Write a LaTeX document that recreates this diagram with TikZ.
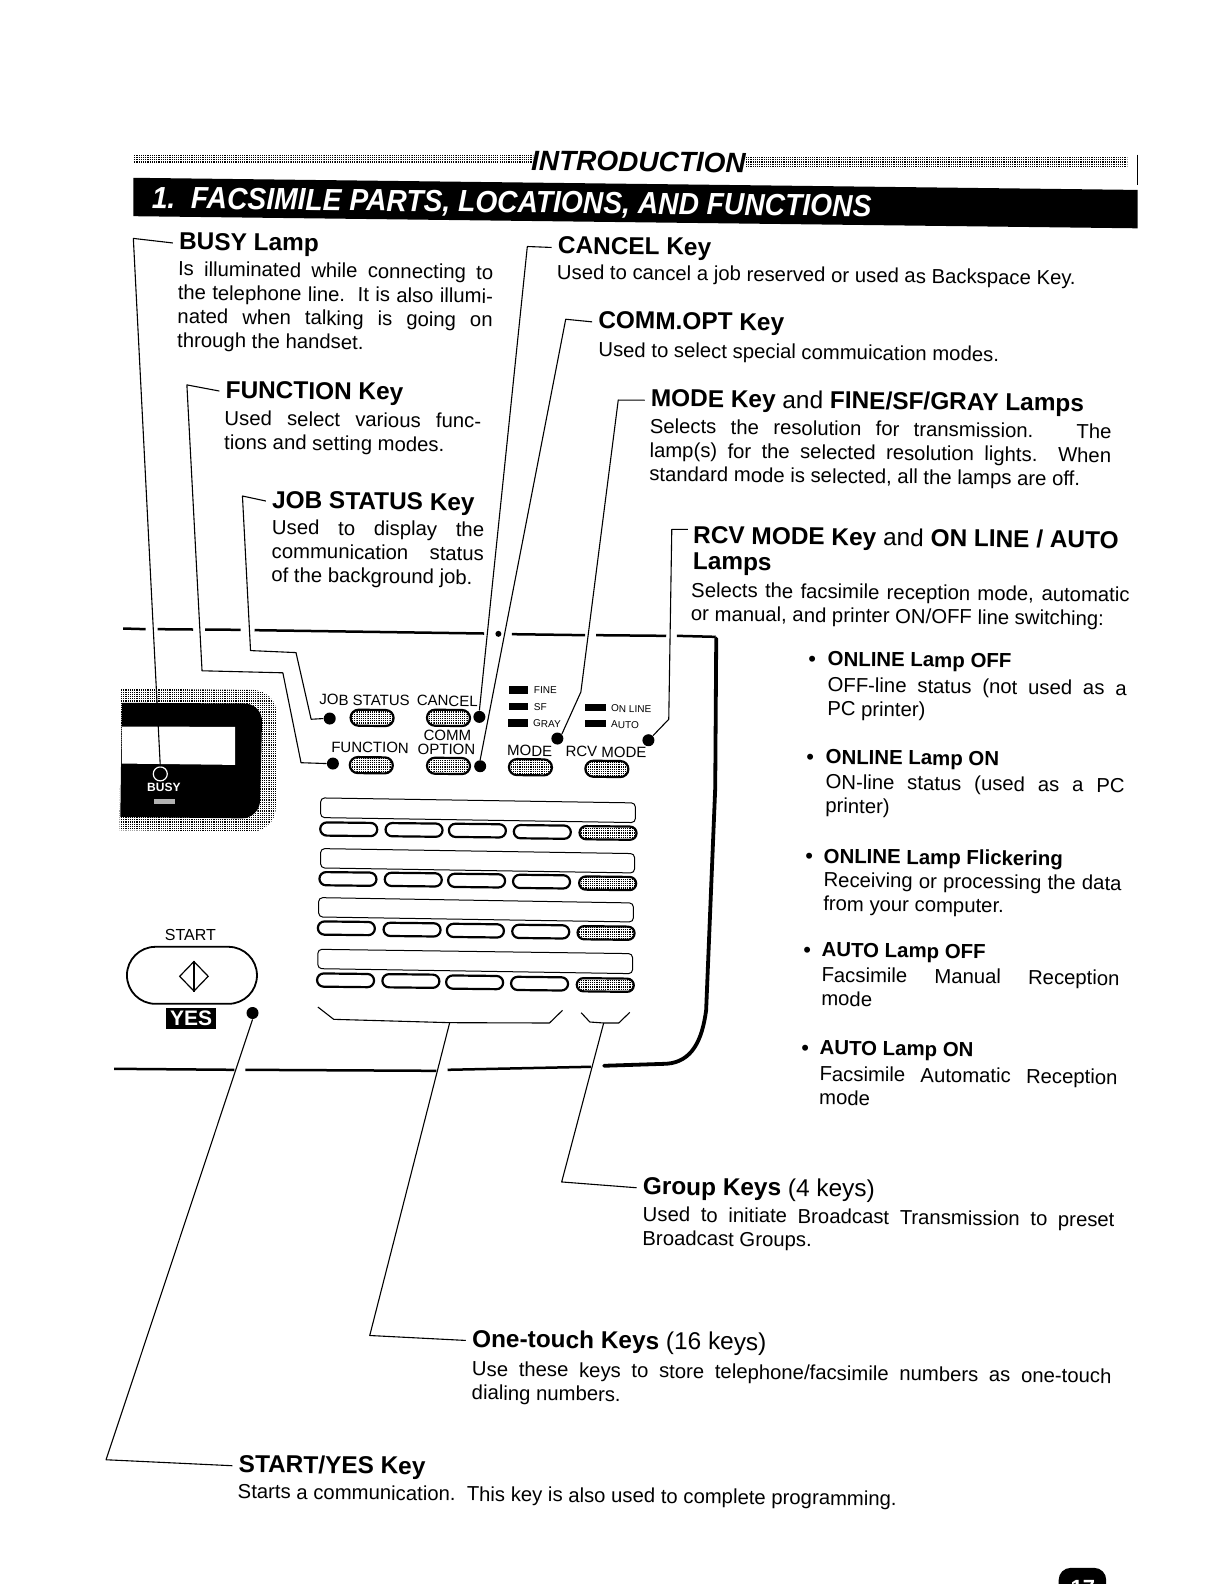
\documentclass[tikz,border=0pt]{standalone}
\usepackage{fontspec}
\setmainfont{Liberation Sans}
\usetikzlibrary{patterns,shapes.misc,shapes.geometric}
\pgfdeclarepatternformonly{finedots}{\pgfqpoint{-0.1pt}{-0.1pt}}{\pgfqpoint{1.2pt}{1.2pt}}{\pgfqpoint{1.1pt}{1.1pt}}{\pgfpathrectangle{\pgfqpoint{0pt}{0pt}}{\pgfqpoint{0.6pt}{0.6pt}}\pgfusepath{fill}}
\tikzset{
 lead/.style={line width=0.55pt,line join=round},
 fromhd/.style={lead,shorten <=3pt},
 tohd/.style={lead,shorten >=3pt},
 hd/.style={anchor=west,rotate=-0.65,yshift=-0.6pt,inner sep=0pt,font=\fontsize{12.2}{13}\selectfont},
 shd/.style={hd,font=\fontsize{10.2}{12}\selectfont},
 bodytxt/.style={anchor=north west,rotate=-0.65,inner sep=0pt,align=justify,text width={#1*0.505pt},font=\fontsize{10.15}{11.9}\selectfont},
 sbodytxt/.style={anchor=west,rotate=-0.65,inner sep=0pt,font=\fontsize{10.15}{11.9}\selectfont},
 bul/.style={anchor=center,inner sep=0pt,yshift=-1pt,font=\fontsize{11}{12}\selectfont},
 dotlamp/.style={circle,fill=black,inner sep=0pt,minimum size=6pt},
 plabel/.style={rotate=-0.65,inner sep=0pt,font=\fontsize{7.5}{8}\selectfont,align=center},
 small/.style={anchor=west,rotate=-0.65,inner sep=0pt,font=\fontsize{5}{6}\selectfont},
 tinylamp/.style={fill=black,draw=none},
 okey/.style={rounded rectangle,draw=black,line width=1.1pt,rotate=-0.65,minimum width=28.5pt,minimum height=6.6pt,inner sep=0pt,fill=white},
 gkey/.style={okey,pattern=finedots,minimum width=28.5pt},
 tkey/.style={okey,pattern=finedots,minimum width=21.5pt,minimum height=8pt},
 strip/.style={draw=black,line width=0.5pt,rounded corners=2pt},
 bracket/.style={line width=0.55pt,line join=round},
 shell/.style={line width=1.25pt},
 hshell/.style={line width=1.9pt,line cap=round}
}
\begin{document}
\begin{tikzpicture}[x=0.505pt,y=-0.505pt]
\useasboundingbox (0,0) rectangle (1209,1568);
% header
\fill[pattern=finedots] (132,153) rectangle (528,161);
\fill[pattern=finedots] (738,156) -- (1116,156) -- (1116,165) -- (738,165) -- cycle;
\node[rotate=-0.65,inner sep=0pt,font=\fontsize{14}{16}\selectfont\bfseries\itshape] (intro) at (632,160) {INTRODUCTION};
\draw[line width=0.8pt] (1126,153) -- (1126,183);
\fill[black] (132,176) -- (1126,188) -- (1126,226) -- (132,214) -- cycle;
\node[anchor=west,rotate=-0.65,xscale=0.922,inner sep=0pt,text=white,font=\fontsize{15.3}{17}\selectfont\bfseries\itshape] (title) at (150,198) {1.\ \ FACSIMILE PARTS, LOCATIONS, AND FUNCTIONS};
% page tab
\begin{scope}
\clip (0,0) rectangle (1209,1568);
\fill[black,rounded corners=6pt] (1048,1552) rectangle (1095,1600);
\node[text=white,inner sep=0pt,font=\fontsize{11}{12}\selectfont\bfseries] (pageno) at (1072,1572) {17};
\end{scope}
% panel
\begin{scope}[shift={(108.9,613.9)},x=0.1979pt,y=-0.1667pt]
 \fill[pattern=finedots] (28,205) [rounded corners=12pt] -- (422,210) -- (418,635) [sharp corners] -- (24,630) -- cycle;
 \fill[black] (30,248) [rounded corners=9pt] -- (385,250) -- (378,595) [sharp corners] -- (26,590) -- cycle;
 \fill[white] (30,319) -- (316,320) -- (316,434) -- (30,430) -- cycle;
 \draw[shell] (33,25) -- (90,27);
 \draw[shell] (120,27) -- (210,28);
 \draw[shell] (240,28) -- (330,29);
 \draw[shell] (365,30) -- (945,40);
 \fill (981,41) circle (1.5pt);
 \draw[shell] (1015,42) -- (1200,45);
 \draw[shell] (1228,45) -- (1405,47);
 \draw[shell] (1432,47) -- (1530,50);
 % dots
 \node[dotlamp] (djob) at (555,295) {};
 \node[dotlamp] (dcan) at (933,290) {};
 \node[dotlamp] (dfun) at (563,430) {};
 \node[dotlamp] (dopt) at (935,438) {};
 \node[dotlamp] (dmod) at (1130,355) {};
 \node[dotlamp] (drcv) at (1360,360) {};
 \node[dotlamp] (dsta) at (360,1178) {};
 \node[circle,draw=white,fill=black,line width=0.6pt,inner sep=0pt,minimum width=7pt,minimum height=7pt] (dbusy) at (127,461) {};
 \node[text=white,inner sep=0pt,font=\fontsize{6}{7}\selectfont\bfseries] (tbusy) at (136,502) {BUSY};
 \fill[white!70!black] (110,535) rectangle (163,552);
 % control keys
 \node[tkey] (kjob) at (662,293) {};
 \node[tkey] (kcan) at (855,293) {};
 \node[tkey] (kfun) at (660,435) {};
 \node[tkey] (kopt) at (855,437) {};
 \node[tkey] (kmod) at (1062,441) {};
 \node[tkey] (krcv) at (1255,446) {};
 \node[plabel] (ljob) at (643,240) {JOB STATUS};
 \node[plabel] (lcan) at (852,242) {CANCEL};
 \node[plabel] (lfun) at (657,382) {FUNCTION};
 \node[plabel] (lcom) at (852,345) {COMM};
 \node[plabel] (lopt) at (850,387) {OPTION};
 \node[plabel] (lmod) at (1060,392) {MODE};
 \node[plabel] (lrcv) at (1253,395) {RCV MODE};
 % small lamps
 \fill[tinylamp] (1007,197) rectangle (1057,220);
 \fill[tinylamp] (1007,247) rectangle (1055,270);
 \fill[tinylamp] (1005,297) rectangle (1055,320);
 \fill[tinylamp] (1200,250) rectangle (1252,272);
 \fill[tinylamp] (1200,298) rectangle (1252,320);
 \node[small] (lfine) at (1070,210) {FINE};
 \node[small] (lsf) at (1070,260) {SF};
 \node[small] (lgray) at (1068,310) {GRAY};
 \node[small] (lon) at (1265,265) {ON LINE};
 \node[small] (lauto) at (1265,313) {AUTO};
 % strips
 \draw[strip] (532,592) -- (532,533) -- (1327,548) -- (1327,607) -- cycle;
 \draw[strip] (532,743) -- (532,685) -- (1325,700) -- (1325,758) -- cycle;
 \draw[strip] (527,890) -- (527,832) -- (1322,848) -- (1322,905) -- cycle;
 \draw[strip] (525,1045) -- (525,987) -- (1320,1000) -- (1320,1060) -- cycle;
 % one-touch keys
 \node[okey] (k11) at (603,627) {}; \node[okey] (k12) at (768,629) {}; \node[okey] (k13) at (928,631) {}; \node[okey] (k14) at (1092,635) {}; \node[gkey] (k15) at (1258,638) {};
 \node[okey] (k21) at (601,776) {}; \node[okey] (k22) at (766,778) {}; \node[okey] (k23) at (926,781) {}; \node[okey] (k24) at (1090,784) {}; \node[gkey] (k25) at (1257,789) {};
 \node[okey] (k31) at (597,924) {}; \node[okey] (k32) at (763,928) {}; \node[okey] (k33) at (923,931) {}; \node[okey] (k34) at (1088,934) {}; \node[gkey] (k35) at (1253,938) {};
 \node[okey] (k41) at (595,1080) {}; \node[okey] (k42) at (760,1082) {}; \node[okey] (k43) at (921,1086) {}; \node[okey] (k44) at (1085,1090) {}; \node[gkey] (k45) at (1251,1094) {};
 % start
 \node[inner sep=0pt,font=\fontsize{8}{9}\selectfont] (lstart) at (203,943) {START};
 \node[rounded rectangle,draw=black,line width=0.9pt,minimum width=65pt,minimum height=28.5pt,inner sep=0pt] (kstart) at (207,1065) {};
 \node[diamond,draw=black,line width=0.6pt,inner sep=0pt,minimum width=14.5pt,minimum height=15pt,aspect=1] (dia) at (212,1068) {};
 \draw[line width=0.6pt] (dia.north) -- (dia.south);
 \node[fill=black,text=white,inner sep=0pt,minimum width=25pt,minimum height=10.5pt,font=\fontsize{10.5}{11}\selectfont\bfseries] (kyes) at (205,1193) {YES};
 % brackets
 \coordinate (ba) at (858,1207);
 \coordinate (bb) at (1247,1208);
 \draw[bracket] (525,1160) -- (565,1197) -- (ba) -- (1110,1208) -- (1143,1170);
 \draw[bracket] (1190,1177) -- (1212,1205) -- (bb) -- (1285,1208) -- (1313,1176);
\end{scope}
% panel outline (bottom and right)
\draw[shell] (113,1058) -- (232,1059);
\draw[shell] (243,1059) -- (432,1060);
\draw[shell] (443,1059) -- (585,1056);
\draw[hshell] (598,1055) -- (660,1053) .. controls (685,1051) and (695,1030) .. (699,1000) -- (708,780) -- (709,632);
% text blocks
\node[hd] (hbusy) at (177,240) {\bfseries BUSY Lamp};
\node[bodytxt=312] (bbusy) at (176,258) {Is illuminated while connecting to\linebreak the telephone line.\ \ It is also illumi-\linebreak nated when talking is going on\linebreak through the handset.};
\node[hd] (hfun) at (223,387) {\bfseries FUNCTION Key};
\node[bodytxt=254] (bfun) at (222,406) {Used select various func-\linebreak tions and setting modes.};
\node[hd] (hjob) at (269,496) {\bfseries JOB STATUS Key};
\node[bodytxt=210] (bjob) at (269,514) {Used to display the\linebreak communication status\linebreak of the background job.};
\node[hd] (hcan) at (552,244) {\bfseries CANCEL Key};
\node[sbodytxt] (bcan) at (551,271) {Used to cancel a job reserved or used as Backspace Key.};
\node[hd] (hcom) at (592,318) {\bfseries COMM.OPT Key};
\node[sbodytxt] (bcom) at (592,348) {Used to select special commuication modes.};
\node[hd] (hmod) at (644,395) {\textbf{MODE Key} and \textbf{FINE/SF/GRAY Lamps}};
\node[bodytxt=457] (bmod) at (643,414) {Selects the resolution for transmission.\ \ \ The\linebreak lamp(s) for the selected resolution lights.\ \ When\linebreak standard mode is selected, all the lamps are off.};
\node[hd,anchor=north west,align=left] (hrcv) at (686,519) {\textbf{RCV MODE Key} and \textbf{ON LINE / AUTO}\\\textbf{Lamps}};
\node[bodytxt=434] (brcv) at (684,576) {Selects the facsimile reception mode, automatic\linebreak or manual, and printer ON/OFF line switching:};
\node[bul] (b1) at (804,653) {•};
\node[shd] (h1) at (819,653) {\bfseries ONLINE Lamp OFF};
\node[bodytxt=296] (t1) at (819,670) {OFF-line status (not used as a\linebreak PC printer)};
\node[bul] (b2) at (802,750) {•};
\node[shd] (h2) at (817,750) {\bfseries ONLINE Lamp ON};
\node[bodytxt=296] (t2) at (817,766) {ON-line status (used as a PC\linebreak printer)};
\node[bul] (b3) at (801,848) {•};
\node[shd] (h3) at (815,848) {\bfseries ONLINE Lamp Flickering};
\node[bodytxt=295] (t3) at (815,863) {Receiving or processing the data\linebreak from your computer.};
\node[bul] (b4) at (799,941) {•};
\node[shd] (h4) at (813,941) {\bfseries AUTO Lamp OFF};
\node[bodytxt=295] (t4) at (813,957) {Facsimile Manual Reception\linebreak mode};
\node[bul] (b5) at (797,1038) {•};
\node[shd] (h5) at (811,1038) {\bfseries AUTO Lamp ON};
\node[bodytxt=295] (t5) at (811,1055) {Facsimile Automatic Reception\linebreak mode};
\node[hd] (hgrp) at (636,1175) {\textbf{Group Keys} (4 keys)};
\node[bodytxt=467] (bgrp) at (636,1194) {Used to initiate Broadcast Transmission to preset\linebreak Broadcast Groups.};
\node[hd] (hone) at (467,1326) {\textbf{One-touch Keys} (16 keys)};
\node[bodytxt=633] (bone) at (467,1347) {Use these keys to store telephone/facsimile numbers as one-touch\linebreak dialing numbers.};
\node[hd] (hsta) at (236,1450) {\bfseries START/YES Key};
\node[sbodytxt] (bsta) at (235,1478) {Starts a communication.\ \ This key is also used to complete programming.};
% leaders
\coordinate (cbusy) at (132,236);
\coordinate (cfun1) at (185,381);
\coordinate (cfun2) at (200,664);
\coordinate (cfun3) at (280,666);
\coordinate (cfun4) at (298,755);
\coordinate (cjob1) at (240,491);
\coordinate (cjob2) at (248,644);
\coordinate (cjob3) at (293,646);
\coordinate (cjob4) at (308,712);
\coordinate (ccan) at (522,244);
\coordinate (ccom) at (560,316);
\coordinate (cmod1) at (612,396);
\coordinate (cmod2) at (575,685);
\coordinate (srcv) at (681,524);
\coordinate (crcv1) at (665,524);
\coordinate (crcv2) at (662,712);
\coordinate (cgrp1) at (556,1170);
\coordinate (cone1) at (366,1322);
\coordinate (csta1) at (105,1445);
\draw[fromhd] (hbusy.west) -- (cbusy) -- (dbusy.north);
\draw[fromhd] (hfun.west) -- (cfun1) -- (cfun2) -- (cfun3) -- (cfun4) -- (dfun.west);
\draw[fromhd] (hjob.west) -- (cjob1) -- (cjob2) -- (cjob3) -- (cjob4) -- (djob.west);
\draw[fromhd] (hcan.west) -- (ccan) -- (dcan.north);
\draw[fromhd] (hcom.west) -- (ccom) -- (dopt.north);
\draw[fromhd] (hmod.west) -- (cmod1) -- (cmod2) -- (dmod.north east);
\draw[lead] (srcv) -- (crcv1) -- (crcv2) -- (drcv.north east);
\draw[tohd] (ba) -- (cone1) -- (hone.west);
\draw[tohd] (bb) -- (cgrp1) -- (hgrp.west);
\draw[tohd] (dsta.south) -- (csta1) -- (hsta.west);
\end{tikzpicture}
\end{document}
